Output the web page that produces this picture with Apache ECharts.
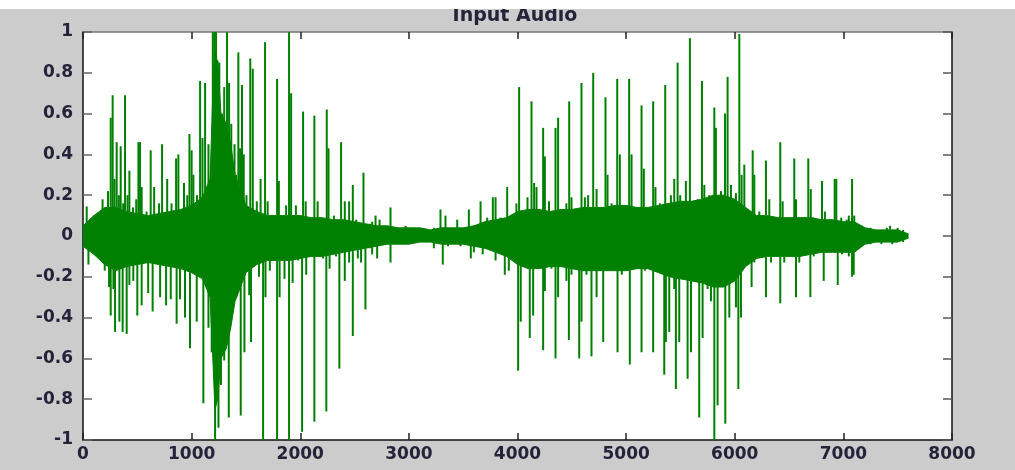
<!DOCTYPE html>
<html>
<head>
<meta charset="utf-8">
<script src="https://cdn.jsdelivr.net/npm/echarts@6/dist/echarts.min.js"></script>
<style>
html,body{margin:0;padding:0;background:#ffffff;}
#chart{width:1015px;height:470px;}
</style>
</head>
<body>
<div id="chart"></div>
<script>
// Body (dense core) envelope
var bodyX = [0,100,200,300,400,500,600,700,800,900,1000,1100,1170,1195,1215,1240,1270,1320,1360,1400,1450,1500,1600,1700,1800,1900,2000,2100,2200,2300,2400,2500,2600,2700,2800,2900,3000,3100,3200,3300,3400,3500,3600,3700,3800,3900,4000,4100,4200,4300,4400,4500,4600,4700,4800,4900,5000,5100,5200,5300,5400,5500,5600,5700,5800,5900,6000,6100,6200,6300,6400,6500,6600,6700,6800,6900,7000,7100,7200,7300,7400,7500,7600];
var bodyUp = [0.05,0.1,0.14,0.14,0.12,0.11,0.1,0.11,0.12,0.13,0.15,0.19,0.28,0.7,0.9,0.85,0.6,0.55,0.45,0.3,0.22,0.15,0.12,0.1,0.1,0.1,0.1,0.09,0.09,0.08,0.08,0.07,0.06,0.05,0.05,0.04,0.04,0.04,0.03,0.04,0.04,0.04,0.05,0.07,0.08,0.09,0.12,0.13,0.13,0.12,0.13,0.13,0.14,0.14,0.14,0.15,0.15,0.14,0.14,0.15,0.16,0.17,0.17,0.18,0.2,0.2,0.18,0.14,0.1,0.1,0.09,0.09,0.09,0.09,0.08,0.08,0.07,0.07,0.04,0.03,0.03,0.03,0.01];
var bodyLow = [-0.05,-0.09,-0.14,-0.17,-0.15,-0.14,-0.13,-0.14,-0.15,-0.16,-0.18,-0.21,-0.3,-0.6,-0.85,-0.8,-0.6,-0.55,-0.45,-0.32,-0.25,-0.18,-0.14,-0.12,-0.12,-0.12,-0.11,-0.1,-0.1,-0.09,-0.08,-0.07,-0.06,-0.05,-0.04,-0.04,-0.04,-0.03,-0.03,-0.04,-0.04,-0.04,-0.05,-0.06,-0.08,-0.1,-0.14,-0.16,-0.16,-0.15,-0.15,-0.16,-0.17,-0.17,-0.17,-0.17,-0.17,-0.16,-0.16,-0.18,-0.2,-0.21,-0.22,-0.23,-0.25,-0.25,-0.22,-0.15,-0.11,-0.1,-0.1,-0.1,-0.1,-0.09,-0.08,-0.08,-0.08,-0.08,-0.04,-0.03,-0.03,-0.03,-0.01];

// Individual strokes above the core (sample index, peak value)
var posX = [34,180,230,255,273,290,310,330,347,370,387,410,427,460,490,510,525,540,585,623,655,700,728,775,815,857,878,930,960,980,1000,1016,1050,1078,1100,1124,1155,1180,1195,1210,1225,1238,1255,1280,1300,1326,1345,1365,1395,1410,1430,1446,1464,1480,1505,1540,1563,1600,1635,1676,1700,1745,1787,1803,1870,1897,1916,1960,2000,2026,2050,2130,2160,2244,2260,2310,2376,2410,2450,2484,2515,2582,2640,2662,2693,2730,2831,2877,2970,3050,3230,3291,3337,3445,3552,3598,3629,3660,3721,3773,3798,3844,3905,3990,4015,4092,4129,4153,4175,4236,4252,4290,4350,4374,4405,4450,4476,4497,4543,4589,4620,4650,4697,4728,4775,4810,4829,4866,4918,4942,4995,5028,5050,5096,5142,5163,5203,5249,5270,5311,5360,5412,5443,5474,5498,5550,5587,5612,5658,5698,5720,5765,5812,5826,5873,5910,5934,5965,6011,6042,6063,6088,6134,6165,6180,6226,6287,6318,6364,6419,6441,6487,6548,6564,6625,6677,6700,6727,6803,6830,6920,6935,6980,7030,7050,7080,7100,7170,7250,7400,7430,7500,7550];
var posV = [0.145,0.18,0.22,0.58,0.69,0.28,0.46,0.2,0.44,0.16,0.69,0.2,0.32,0.14,0.18,0.46,0.46,0.24,0.12,0.42,0.24,0.16,0.45,0.28,0.16,0.38,0.4,0.26,0.2,0.5,0.42,0.3,0.2,0.76,0.48,0.75,0.45,0.36,1.0,1.0,1.0,0.86,0.85,0.6,0.73,1.0,0.75,0.55,0.45,0.3,0.9,0.43,0.74,0.4,0.2,0.87,0.82,0.17,0.28,0.95,0.17,0.1,0.77,0.27,0.15,1.0,0.7,0.15,0.1,0.61,0.17,0.59,0.17,0.62,0.43,0.1,0.46,0.17,0.17,0.25,0.08,0.31,0.06,0.07,0.1,0.08,0.14,0.04,0.05,0.04,0.04,0.13,0.1,0.08,0.13,0.05,0.04,0.17,0.09,0.19,0.19,0.09,0.24,0.16,0.73,0.19,0.66,0.26,0.24,0.53,0.39,0.17,0.53,0.58,0.13,0.16,0.66,0.19,0.11,0.75,0.19,0.2,0.8,0.23,0.11,0.68,0.3,0.16,0.77,0.4,0.14,0.77,0.4,0.14,0.64,0.33,0.11,0.66,0.24,0.16,0.74,0.2,0.28,0.85,0.2,0.27,0.97,0.17,0.18,0.76,0.25,0.2,0.63,0.53,0.22,0.6,0.78,0.25,0.21,0.99,0.3,0.35,0.1,0.42,0.3,0.12,0.37,0.18,0.04,0.46,0.17,0.04,0.38,0.18,0.07,0.38,0.23,0.09,0.27,0.12,0.28,0.28,0.09,0.08,0.1,0.28,0.1,0.05,0.04,0.04,0.05,0.04,0.03];

// Individual strokes below the core (sample index, trough value)
var negX = [50,200,240,255,280,295,335,365,402,427,463,500,540,600,641,710,765,808,862,893,939,985,1047,1108,1155,1185,1216,1247,1270,1300,1342,1380,1410,1452,1486,1530,1547,1620,1658,1680,1720,1787,1810,1855,1897,1930,1980,2017,2055,2100,2130,2170,2210,2240,2270,2330,2360,2410,2450,2484,2530,2560,2600,2640,2662,2708,2831,2880,3230,3312,3360,3475,3570,3598,3680,3798,3883,3920,3970,4006,4030,4068,4113,4144,4190,4236,4252,4313,4350,4374,4405,4450,4473,4497,4568,4589,4635,4681,4728,4789,4835,4921,4960,5034,5065,5142,5173,5249,5295,5351,5366,5397,5443,5458,5489,5530,5566,5597,5643,5673,5704,5750,5781,5812,5842,5873,5913,5950,6011,6033,6057,6088,6155,6180,6287,6334,6419,6456,6564,6594,6696,6727,6819,6850,6948,6988,7050,7080,7095,7150,7250,7350,7450,7550];
var negV = [-0.14,-0.17,-0.25,-0.39,-0.26,-0.47,-0.42,-0.47,-0.48,-0.24,-0.22,-0.39,-0.34,-0.28,-0.37,-0.3,-0.34,-0.31,-0.43,-0.31,-0.4,-0.55,-0.42,-0.82,-0.45,-0.57,-1.0,-0.94,-0.73,-0.61,-0.89,-0.29,-0.3,-0.88,-0.57,-0.29,-0.52,-0.2,-1.0,-0.3,-0.17,-1.0,-0.3,-0.21,-1.0,-0.23,-0.12,-0.96,-0.19,-0.09,-0.91,-0.1,-0.11,-0.86,-0.16,-0.1,-0.65,-0.22,-0.13,-0.49,-0.11,-0.13,-0.36,-0.06,-0.09,-0.11,-0.13,-0.04,-0.06,-0.14,-0.05,-0.05,-0.11,-0.08,-0.09,-0.12,-0.19,-0.17,-0.09,-0.66,-0.42,-0.13,-0.5,-0.39,-0.13,-0.56,-0.27,-0.16,-0.6,-0.3,-0.13,-0.22,-0.51,-0.19,-0.6,-0.42,-0.19,-0.59,-0.3,-0.52,-0.16,-0.57,-0.19,-0.63,-0.16,-0.57,-0.17,-0.57,-0.16,-0.68,-0.52,-0.47,-0.26,-0.75,-0.52,-0.16,-0.7,-0.57,-0.19,-0.89,-0.5,-0.26,-0.32,-1.0,-0.83,-0.24,-0.92,-0.4,-0.35,-0.75,-0.4,-0.13,-0.25,-0.13,-0.3,-0.13,-0.33,-0.13,-0.3,-0.13,-0.3,-0.1,-0.22,-0.08,-0.24,-0.09,-0.1,-0.2,-0.19,-0.05,-0.04,-0.04,-0.04,-0.03];

var titleText = 'Input Audio';
var GREEN = '#008000';

var upData = bodyX.map(function (x, i) { return [x, bodyUp[i]]; });
var lowData = bodyX.map(function (x, i) { return [x, bodyLow[i]]; });
var strokeData = [];
posX.forEach(function (x, i) { strokeData.push([x, posV[i]]); });
negX.forEach(function (x, i) { strokeData.push([x, negV[i]]); });

var labelStyle = {
  fontFamily: 'DejaVu Sans',
  fontWeight: 'bold',
  fontSize: 17,
  color: '#23233a'
};

var chart = echarts.init(document.getElementById('chart'), null, { renderer: 'canvas' });
chart.setOption({
  animation: false,
  backgroundColor: '#cccccc',
  grid: {
    left: 83, right: 63, top: 32, bottom: 30,
    show: true, backgroundColor: '#ffffff', borderWidth: 0
  },
  xAxis: [{
    type: 'value', min: 0, max: 8000, interval: 1000, position: 'bottom',
    axisLine: { show: true, onZero: false, lineStyle: { color: '#111', width: 1.5 } },
    axisTick: { show: true, inside: true, length: 7, lineStyle: { color: '#222', width: 1.5 } },
    axisLabel: Object.assign({ margin: 6, formatter: function (v) { return String(v); } }, labelStyle),
    splitLine: { show: false }
  }, {
    type: 'value', min: 0, max: 8000, interval: 1000, position: 'top',
    axisLine: { show: true, onZero: false, lineStyle: { color: '#777', width: 1.5 } },
    axisTick: { show: true, inside: true, length: 7, lineStyle: { color: '#222', width: 1.5 } },
    axisLabel: { show: false },
    splitLine: { show: false }
  }],
  yAxis: [{
    type: 'value', min: -1, max: 1, interval: 0.2, position: 'left',
    axisLine: { show: true, onZero: false, lineStyle: { color: '#111', width: 1.5 } },
    axisTick: { show: true, inside: true, length: 9, lineStyle: { color: '#666', width: 1.5 } },
    axisLabel: Object.assign({ margin: 10 }, labelStyle),
    splitLine: { show: false }
  }, {
    type: 'value', min: -1, max: 1, interval: 0.2, position: 'right',
    axisLine: { show: true, onZero: false, lineStyle: { color: '#111', width: 1.5 } },
    axisTick: { show: true, inside: true, length: 9, lineStyle: { color: '#555', width: 1.5 } },
    axisLabel: { show: false },
    splitLine: { show: false }
  }],
  series: [{
    type: 'line', data: upData, showSymbol: false, symbol: 'none',
    lineStyle: { color: GREEN, width: 1 },
    areaStyle: { color: GREEN, opacity: 1, origin: 0 },
    silent: true
  }, {
    type: 'line', data: lowData, showSymbol: false, symbol: 'none',
    lineStyle: { color: GREEN, width: 1 },
    areaStyle: { color: GREEN, opacity: 1, origin: 0 },
    silent: true
  }, {
    type: 'bar', data: strokeData, barWidth: 2,
    itemStyle: { color: GREEN },
    silent: true
  }],
  graphic: [{
    type: 'text', x: 515, y: 16, z: 10,
    style: {
      text: titleText, fill: '#23233a',
      font: 'bold 19px "DejaVu Sans"',
      align: 'center', verticalAlign: 'middle'
    }
  }, {
    type: 'rect', z: 20,
    shape: { x: 0, y: 0, width: 1015, height: 9 },
    style: { fill: '#ffffff' }
  }]
});
</script>
</body>
</html>
